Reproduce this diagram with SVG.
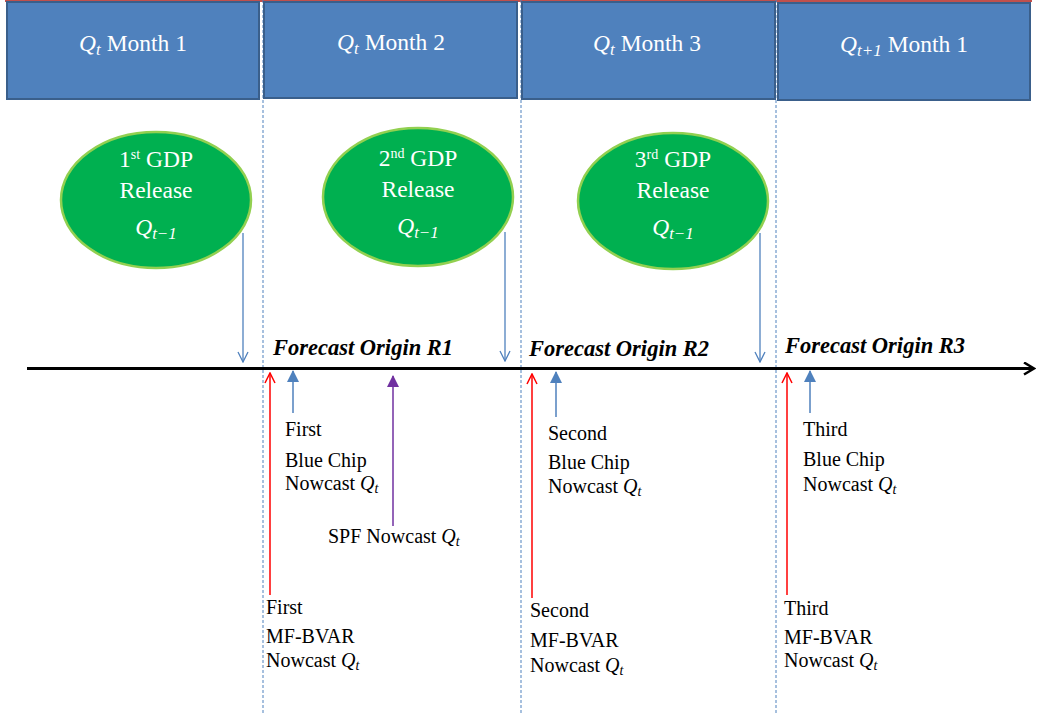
<svg xmlns="http://www.w3.org/2000/svg" width="1037" height="714" viewBox="0 0 1037 714">
<defs>
<style>
.box{fill:#4F81BD;stroke:#3A5F8B;stroke-width:2}
.ell{fill:#00B050;stroke:#92D050;stroke-width:2.5}
.wt{font-size:23.5px;fill:#fff;text-anchor:middle}
.bt{font-size:20px;fill:#000}
.fo{font-size:22.5px;font-weight:bold;font-style:italic;fill:#000}
.q{font-style:italic}
.vl{stroke:#4F81BD;stroke-width:1;stroke-dasharray:3,2}
</style>
<marker id="openBlue" viewBox="0 0 12 12" refX="11" refY="6" markerWidth="12" markerHeight="12" markerUnits="userSpaceOnUse" orient="auto"><path d="M1,1 L11,6 L1,11" fill="none" stroke="#4F81BD" stroke-width="1.3"/></marker>
<marker id="openRed" viewBox="0 0 12 12" refX="11" refY="6" markerWidth="12" markerHeight="12" markerUnits="userSpaceOnUse" orient="auto"><path d="M1,1 L11,6 L1,11" fill="none" stroke="#FF0000" stroke-width="1.5"/></marker>
<marker id="openBlack" viewBox="0 0 14 14" refX="12" refY="7" markerWidth="14" markerHeight="14" markerUnits="userSpaceOnUse" orient="auto"><path d="M2,1 L12,7 L2,13" fill="none" stroke="#000" stroke-width="2.5"/></marker>
<marker id="fillBlue" viewBox="0 0 12 12" refX="11" refY="6" markerWidth="12" markerHeight="12" markerUnits="userSpaceOnUse" orient="auto"><path d="M0,0 L12,6 L0,12 Z" fill="#4F81BD"/></marker>
<marker id="fillPurple" viewBox="0 0 12 12" refX="11" refY="6" markerWidth="12" markerHeight="12" markerUnits="userSpaceOnUse" orient="auto"><path d="M0,0 L12,6 L0,12 Z" fill="#7030A0"/></marker>
</defs>
<rect width="1037" height="714" fill="#fff"/>
<line x1="5" y1="1" x2="1032" y2="1" stroke="#C0504D" stroke-width="2"/>
<g id="dividers">
<line class="vl" x1="263" y1="0" x2="263" y2="714"/>
<line class="vl" x1="521" y1="0" x2="521" y2="714"/>
<line class="vl" x1="776" y1="0" x2="776" y2="714"/>
</g>
<g id="month1"><rect class="box" x="7" y="2" width="252" height="97"/><text class="wt" font-family="Liberation Serif, serif" x="133" y="51"><tspan class="q">Q</tspan><tspan class="q" font-size="17" dy="4">t</tspan><tspan dy="-4"> Month 1</tspan></text></g>
<g id="month2"><rect class="box" x="264" y="2" width="253" height="96"/><text class="wt" font-family="Liberation Serif, serif" x="391" y="50"><tspan class="q">Q</tspan><tspan class="q" font-size="17" dy="4">t</tspan><tspan dy="-4"> Month 2</tspan></text></g>
<g id="month3"><rect class="box" x="522" y="2" width="253" height="97"/><text class="wt" font-family="Liberation Serif, serif" x="647" y="51"><tspan class="q">Q</tspan><tspan class="q" font-size="17" dy="4">t</tspan><tspan dy="-4"> Month 3</tspan></text></g>
<g id="month4"><rect class="box" x="778" y="3" width="252" height="97"/><text class="wt" font-family="Liberation Serif, serif" x="904" y="52"><tspan class="q">Q</tspan><tspan class="q" font-size="17" dy="4">t+1</tspan><tspan dy="-4"> Month 1</tspan></text></g>
<g id="gdp1"><ellipse class="ell" cx="156" cy="200" rx="95" ry="68"/>
<text class="wt" font-family="Liberation Serif, serif" x="156" y="167">1<tspan font-size="14" dy="-8">st</tspan><tspan dy="8"> GDP</tspan></text>
<text class="wt" font-family="Liberation Serif, serif" x="156" y="198">Release</text>
<text class="wt" font-family="Liberation Serif, serif" x="156" y="235"><tspan class="q">Q</tspan><tspan class="q" font-size="17" dy="4">t−1</tspan></text></g>
<g id="gdp2"><ellipse class="ell" cx="418" cy="197" rx="95" ry="69"/>
<text class="wt" font-family="Liberation Serif, serif" x="418" y="166">2<tspan font-size="14" dy="-8">nd</tspan><tspan dy="8"> GDP</tspan></text>
<text class="wt" font-family="Liberation Serif, serif" x="418" y="197">Release</text>
<text class="wt" font-family="Liberation Serif, serif" x="418" y="234"><tspan class="q">Q</tspan><tspan class="q" font-size="17" dy="4">t−1</tspan></text></g>
<g id="gdp3"><ellipse class="ell" cx="673" cy="201" rx="95" ry="68"/>
<text class="wt" font-family="Liberation Serif, serif" x="673" y="167">3<tspan font-size="14" dy="-8">rd</tspan><tspan dy="8"> GDP</tspan></text>
<text class="wt" font-family="Liberation Serif, serif" x="673" y="198">Release</text>
<text class="wt" font-family="Liberation Serif, serif" x="673" y="235"><tspan class="q">Q</tspan><tspan class="q" font-size="17" dy="4">t−1</tspan></text></g>
<g id="connectors">
<line x1="27" y1="368.5" x2="1034" y2="368.5" stroke="#000" stroke-width="3" marker-end="url(#openBlack)"/>
<line x1="243" y1="233" x2="243" y2="362" stroke="#4F81BD" stroke-width="1.3" marker-end="url(#openBlue)"/>
<line x1="505" y1="232" x2="505" y2="361" stroke="#4F81BD" stroke-width="1.3" marker-end="url(#openBlue)"/>
<line x1="760" y1="233" x2="760" y2="362" stroke="#4F81BD" stroke-width="1.3" marker-end="url(#openBlue)"/>
<line x1="270" y1="595" x2="270" y2="373" stroke="#FF0000" stroke-width="1.5" marker-end="url(#openRed)"/>
<line x1="532" y1="598" x2="532" y2="374" stroke="#FF0000" stroke-width="1.5" marker-end="url(#openRed)"/>
<line x1="787" y1="595" x2="787" y2="373" stroke="#FF0000" stroke-width="1.5" marker-end="url(#openRed)"/>
<line x1="293" y1="413" x2="293" y2="371" stroke="#4F81BD" stroke-width="1.5" marker-end="url(#fillBlue)"/>
<line x1="556" y1="417" x2="556" y2="372" stroke="#4F81BD" stroke-width="1.5" marker-end="url(#fillBlue)"/>
<line x1="810" y1="413" x2="810" y2="371" stroke="#4F81BD" stroke-width="1.5" marker-end="url(#fillBlue)"/>
<line x1="393" y1="526" x2="393" y2="376" stroke="#7030A0" stroke-width="1.5" marker-end="url(#fillPurple)"/>
</g>
<g id="origins">
<text class="fo" font-family="Liberation Serif, serif" x="273" y="355">Forecast Origin R1</text>
<text class="fo" font-family="Liberation Serif, serif" x="529" y="356">Forecast Origin R2</text>
<text class="fo" font-family="Liberation Serif, serif" x="785" y="353">Forecast Origin R3</text>
</g>
<g id="bluechip1"><text class="bt" font-family="Liberation Serif, serif" x="285" y="436">First</text><text class="bt" font-family="Liberation Serif, serif" x="285" y="467">Blue Chip</text><text class="bt" font-family="Liberation Serif, serif" x="285" y="490">Nowcast <tspan class="q">Q</tspan><tspan class="q" font-size="14" dy="3">t</tspan></text></g>
<g id="spf"><text class="bt" font-family="Liberation Serif, serif" x="328" y="543">SPF Nowcast <tspan class="q">Q</tspan><tspan class="q" font-size="14" dy="3">t</tspan></text></g>
<g id="mf1"><text class="bt" font-family="Liberation Serif, serif" x="266" y="614">First</text><text class="bt" font-family="Liberation Serif, serif" x="266" y="643">MF-BVAR</text><text class="bt" font-family="Liberation Serif, serif" x="266" y="667">Nowcast <tspan class="q">Q</tspan><tspan class="q" font-size="14" dy="3">t</tspan></text></g>
<g id="bluechip2"><text class="bt" font-family="Liberation Serif, serif" x="548" y="440">Second</text><text class="bt" font-family="Liberation Serif, serif" x="548" y="469">Blue Chip</text><text class="bt" font-family="Liberation Serif, serif" x="548" y="493">Nowcast <tspan class="q">Q</tspan><tspan class="q" font-size="14" dy="3">t</tspan></text></g>
<g id="mf2"><text class="bt" font-family="Liberation Serif, serif" x="530" y="617">Second</text><text class="bt" font-family="Liberation Serif, serif" x="530" y="647">MF-BVAR</text><text class="bt" font-family="Liberation Serif, serif" x="530" y="672">Nowcast <tspan class="q">Q</tspan><tspan class="q" font-size="14" dy="3">t</tspan></text></g>
<g id="bluechip3"><text class="bt" font-family="Liberation Serif, serif" x="803" y="436">Third</text><text class="bt" font-family="Liberation Serif, serif" x="803" y="466">Blue Chip</text><text class="bt" font-family="Liberation Serif, serif" x="803" y="491">Nowcast <tspan class="q">Q</tspan><tspan class="q" font-size="14" dy="3">t</tspan></text></g>
<g id="mf3"><text class="bt" font-family="Liberation Serif, serif" x="784" y="615">Third</text><text class="bt" font-family="Liberation Serif, serif" x="784" y="644">MF-BVAR</text><text class="bt" font-family="Liberation Serif, serif" x="784" y="667">Nowcast <tspan class="q">Q</tspan><tspan class="q" font-size="14" dy="3">t</tspan></text></g>
</svg>
